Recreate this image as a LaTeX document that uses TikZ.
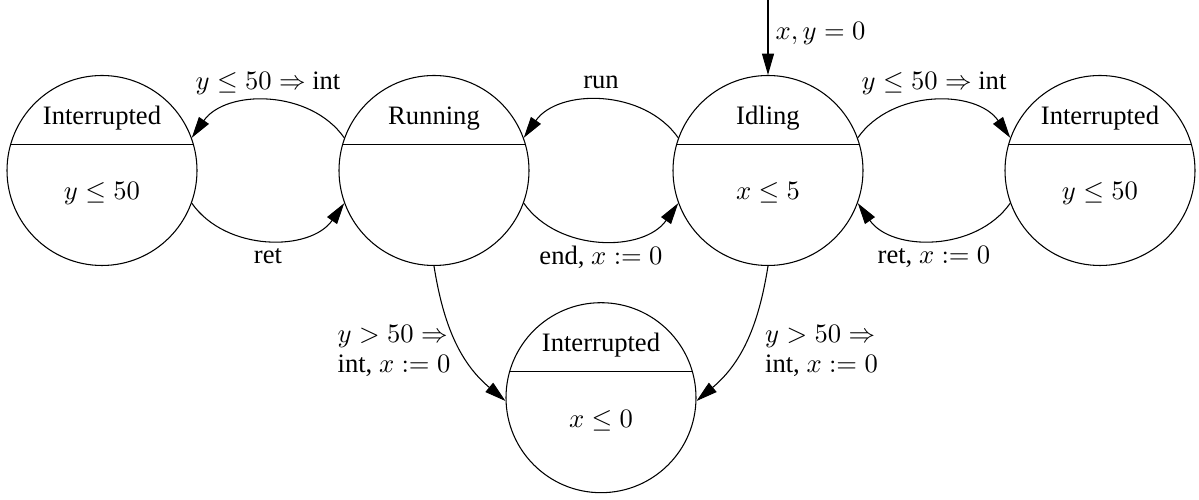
\documentclass[tikz,border=0pt]{standalone}
\usepackage[no-math]{fontspec}
\setmainfont{Liberation Serif}
\usetikzlibrary{arrows.meta}
\begin{document}
\begin{tikzpicture}[x=0.376pt,y=0.376pt,
  loc/.style={draw, circle, minimum size=71.44pt, inner sep=0pt},
  lab/.style={anchor=base, inner sep=0pt},
  trans/.style={-{Triangle[length=8pt,width=4.5pt]}},
  abovelbl/.style={anchor=base, inner sep=0pt, yshift=4.5pt},
  belowlbl/.style={anchor=base, inner sep=0pt, yshift=-9pt},
  sidelbl/.style={align=left, inner sep=0pt},
]
\useasboundingbox (0,0) rectangle (1199,500);

% locations
\node[loc] (intL) at (102,329.5) {};
\node[loc] (run)  at (434,329.5) {};
\node[loc] (idle) at (768,329.5) {};
\node[loc] (intR) at (1100,329.5) {};
\node[loc] (intB) at (601,102.3) {};

% chords
\draw (intL.164) -- (intL.16);
\draw (run.164) -- (run.16);
\draw (idle.164) -- (idle.16);
\draw (intR.164) -- (intR.16);
\draw (intB.164) -- (intB.16);

% inner labels
\node[lab] (intLn) at (102,375.7) {Interrupted};
\node[lab] (intLi) at (102,300) {$y \le 50$};
\node[lab] (runn)  at (434,375.7) {Running};
\node[lab] (idlen) at (768,375.7) {Idling};
\node[lab] (idlei) at (768,300) {$x \le 5$};
\node[lab] (intRn) at (1100,375.7) {Interrupted};
\node[lab] (intRi) at (1100,300) {$y \le 50$};
\node[lab] (intBn) at (601,148.5) {Interrupted};
\node[lab] (intBi) at (601,72.8) {$x \le 0$};

% initial
\coordinate (init) at (768,500);
\draw[trans] (init) -- node[pos=0.5, anchor=base west, inner sep=0pt, xshift=2.7pt, yshift=-0.6pt] (initl) {$x, y = 0$} (idle);

% transitions
\draw[trans] (run.160) to[bend right=55] node[abovelbl] (t1) {$y \le 50 \Rightarrow$ int} (intL.20);
\draw[trans] (intL.-20) to[bend right=55] node[belowlbl] (t2) {ret} (run.200);
\draw[trans] (idle.160) to[bend right=55] node[abovelbl] (t3) {run} (run.20);
\draw[trans] (run.-20) to[bend right=55] node[belowlbl] (t4) {end, $x := 0$} (idle.200);
\draw[trans] (idle.20) to[bend left=55] node[abovelbl] (t5) {$y \le 50 \Rightarrow$ int} (intR.160);
\draw[trans] (intR.200) to[bend left=55] node[belowlbl] (t6) {ret, $x := 0$} (idle.-20);

\draw[trans] (run.south) to[out=-81, in=140] (intB.182);
\node[sidelbl] (t7) at (394,149) {$y > 50 \Rightarrow$\\[-0.6pt]int, $x := 0$};
\draw[trans] (idle.south) to[out=-99, in=40] (intB.-2);
\node[sidelbl] (t8) at (821.5,149) {$y > 50 \Rightarrow$\\[-0.6pt]int, $x := 0$};
\end{tikzpicture}
\end{document}
